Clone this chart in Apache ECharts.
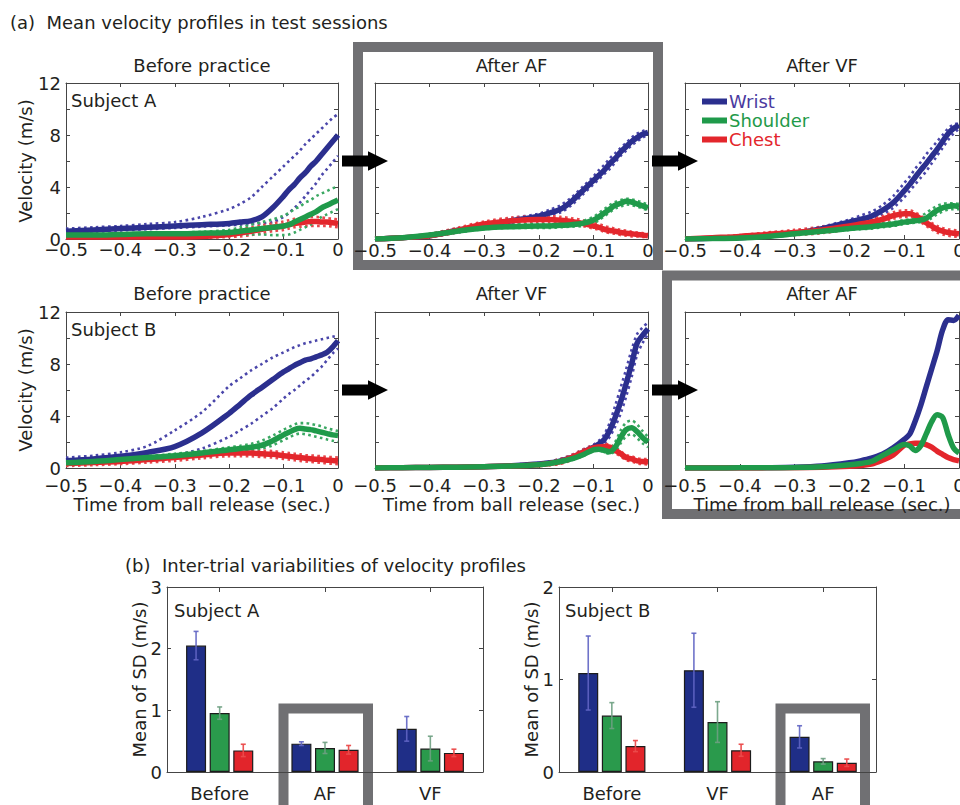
<!DOCTYPE html>
<html><head><meta charset="utf-8">
<script src="https://cdn.jsdelivr.net/npm/echarts@6/dist/echarts.min.js"></script>
<style>html,body{margin:0;padding:0;background:#fff}#c{width:960px;height:805px}</style>
</head><body><div id="c"></div>
<script>
// ---------- DATA ----------
const T = [-0.5,-0.45,-0.4,-0.35,-0.3,-0.25,-0.2,-0.18,-0.16,-0.14,-0.12,-0.1,-0.09,-0.08,-0.07,-0.06,-0.05,-0.04,-0.03,-0.02,-0.01,0];
const xTicks = [-0.5,-0.4,-0.3,-0.2,-0.1,0];
const yTickLabels = [0,4,8,12];

// Subject A, before practice
const aB_w   = [0.6,0.7,0.8,0.9,1.0,1.1,1.2,1.3,1.4,1.7,2.4,3.3,3.8,4.2,4.7,5.1,5.6,6.0,6.5,7.0,7.5,8.0];
const aB_wHi = [0.8,0.9,1.0,1.15,1.3,1.7,2.3,2.7,3.2,4.0,4.8,5.6,6.0,6.4,6.8,7.3,7.7,8.1,8.5,8.9,9.3,9.6];
const aB_wLo = [0.5,0.55,0.65,0.75,0.85,0.95,1.05,1.1,1.15,1.2,1.3,1.7,2.0,2.4,2.8,3.3,3.8,4.3,4.9,5.4,5.9,6.4];
const aB_s   = [0.3,0.3,0.35,0.4,0.4,0.45,0.5,0.6,0.7,0.8,0.9,1.0,1.1,1.3,1.5,1.7,1.9,2.1,2.4,2.6,2.8,3.0];
const aB_sHi = [0.35,0.35,0.4,0.45,0.5,0.55,0.7,0.9,1.1,1.3,1.5,1.8,2.0,2.3,2.5,2.8,3.0,3.3,3.5,3.7,3.9,4.0];
const aB_sLo = [0.25,0.25,0.3,0.3,0.3,0.3,0.35,0.35,0.35,0.35,0.3,0.3,0.35,0.5,0.7,0.9,1.1,1.4,1.7,1.9,2.1,2.3];
const aB_c   = [0.15,0.15,0.15,0.15,0.15,0.2,0.35,0.45,0.6,0.75,0.9,1.0,1.1,1.2,1.25,1.3,1.35,1.35,1.3,1.3,1.25,1.2];
const aB_cHi = [0.2,0.2,0.2,0.2,0.25,0.35,0.6,0.75,0.9,1.05,1.2,1.35,1.45,1.55,1.6,1.65,1.7,1.7,1.65,1.6,1.55,1.5];
const aB_cLo = [0.1,0.1,0.1,0.1,0.1,0.1,0.15,0.2,0.3,0.45,0.6,0.7,0.8,0.9,0.95,1.0,1.0,1.0,1.0,1.0,0.95,0.9];

// Subject A, after AF
const aA_w   = [0.0,0.1,0.25,0.65,1.0,1.4,1.75,2.0,2.3,2.9,3.7,4.5,4.9,5.3,5.8,6.2,6.7,7.1,7.5,7.8,8.05,8.2];
const aA_wHi = [0.05,0.15,0.35,0.8,1.2,1.6,1.95,2.25,2.6,3.2,4.0,4.8,5.3,5.7,6.2,6.6,7.0,7.4,7.8,8.1,8.3,8.4];
const aA_wLo = [0.0,0.05,0.2,0.5,0.85,1.2,1.55,1.8,2.05,2.6,3.4,4.2,4.6,5.0,5.4,5.9,6.4,6.8,7.2,7.5,7.8,8.0];
const aA_s   = [0.0,0.1,0.3,0.6,0.85,0.95,1.0,1.0,1.05,1.1,1.2,1.45,1.7,2.0,2.3,2.6,2.75,2.9,2.85,2.7,2.55,2.4];
const aA_sHi = [0.0,0.15,0.4,0.7,0.95,1.1,1.15,1.15,1.2,1.25,1.4,1.7,2.0,2.3,2.6,2.85,3.0,3.1,3.05,2.95,2.8,2.65];
const aA_sLo = [0.0,0.05,0.2,0.5,0.75,0.85,0.85,0.85,0.9,0.95,1.0,1.2,1.45,1.75,2.05,2.35,2.5,2.65,2.6,2.5,2.35,2.2];
const aA_c   = [0.0,0.1,0.25,0.65,1.15,1.4,1.5,1.5,1.45,1.35,1.2,1.0,0.9,0.75,0.65,0.6,0.5,0.45,0.4,0.35,0.3,0.25];
const aA_cHi = [0.05,0.15,0.4,0.85,1.35,1.65,1.75,1.75,1.7,1.6,1.45,1.25,1.15,1.0,0.9,0.8,0.7,0.65,0.55,0.5,0.45,0.4];
const aA_cLo = [0.0,0.05,0.15,0.5,0.95,1.2,1.3,1.3,1.25,1.15,1.0,0.8,0.7,0.55,0.45,0.4,0.3,0.25,0.2,0.2,0.15,0.1];

// Subject A, after VF
const aV_w   = [0.0,0.05,0.1,0.25,0.45,0.8,1.3,1.5,1.75,2.2,2.8,3.7,4.2,4.75,5.3,5.8,6.35,6.9,7.5,8.1,8.5,8.75];
const aV_wHi = [0.0,0.05,0.15,0.3,0.55,0.95,1.5,1.8,2.1,2.6,3.3,4.3,4.8,5.4,5.9,6.5,7.0,7.5,8.0,8.5,8.8,8.9];
const aV_wLo = [0.0,0.05,0.1,0.2,0.4,0.7,1.1,1.3,1.5,1.9,2.4,3.2,3.7,4.2,4.7,5.2,5.8,6.4,7.0,7.6,8.1,8.5];
const aV_s   = [0.0,0.03,0.08,0.2,0.4,0.6,0.8,0.88,0.95,1.05,1.15,1.3,1.35,1.4,1.45,1.6,1.9,2.2,2.4,2.5,2.55,2.5];
const aV_sHi = [0.0,0.05,0.12,0.28,0.5,0.7,0.95,1.0,1.1,1.2,1.3,1.45,1.5,1.6,1.75,2.0,2.3,2.55,2.7,2.75,2.75,2.7];
const aV_sLo = [0.0,0.02,0.05,0.15,0.3,0.5,0.7,0.75,0.8,0.9,1.0,1.15,1.2,1.25,1.3,1.35,1.6,1.9,2.1,2.25,2.3,2.3];
const aV_c   = [0.0,0.1,0.2,0.35,0.5,0.7,1.0,1.15,1.3,1.5,1.8,1.95,1.95,1.8,1.55,1.25,1.0,0.75,0.6,0.5,0.45,0.4];
const aV_cHi = [0.05,0.15,0.3,0.5,0.7,0.95,1.25,1.4,1.55,1.75,2.05,2.2,2.2,2.05,1.8,1.5,1.25,1.0,0.85,0.75,0.7,0.65];
const aV_cLo = [0.0,0.05,0.1,0.2,0.3,0.45,0.75,0.9,1.05,1.25,1.55,1.7,1.7,1.55,1.3,1.0,0.75,0.5,0.35,0.25,0.2,0.15];

// Subject B, before practice
const bB_w   = [0.55,0.7,0.9,1.2,1.65,2.7,4.2,4.9,5.6,6.2,6.8,7.4,7.65,7.9,8.1,8.3,8.4,8.55,8.7,8.9,9.3,9.8];
const bB_wHi = [0.8,0.95,1.2,1.7,2.9,4.3,6.3,6.9,7.5,8.0,8.5,8.9,9.1,9.3,9.45,9.6,9.7,9.8,9.9,10.0,10.1,10.2];
const bB_wLo = [0.3,0.4,0.55,0.75,1.0,1.5,2.4,2.9,3.4,4.0,4.6,5.35,5.7,6.0,6.35,6.7,7.0,7.4,7.8,8.3,8.8,9.2];
const bB_s   = [0.4,0.5,0.65,0.8,0.95,1.15,1.4,1.5,1.6,1.75,2.1,2.55,2.75,2.95,3.05,3.0,2.95,2.85,2.75,2.65,2.55,2.5];
const bB_sHi = [0.5,0.6,0.75,0.9,1.1,1.3,1.6,1.7,1.85,2.1,2.5,2.95,3.15,3.35,3.45,3.45,3.4,3.3,3.2,3.05,2.95,2.85];
const bB_sLo = [0.3,0.4,0.55,0.7,0.85,1.0,1.25,1.3,1.4,1.5,1.75,2.15,2.35,2.55,2.65,2.6,2.5,2.4,2.3,2.2,2.1,2.0];
const bB_c   = [0.35,0.42,0.5,0.65,0.8,1.0,1.15,1.15,1.15,1.1,1.05,0.95,0.9,0.85,0.8,0.75,0.72,0.68,0.65,0.6,0.58,0.55];
const bB_cHi = [0.55,0.62,0.72,0.88,1.05,1.25,1.4,1.4,1.4,1.35,1.3,1.2,1.15,1.1,1.05,1.0,0.97,0.93,0.9,0.85,0.83,0.8];
const bB_cLo = [0.15,0.22,0.3,0.42,0.55,0.75,0.9,0.9,0.9,0.85,0.8,0.7,0.65,0.6,0.55,0.5,0.47,0.43,0.4,0.35,0.33,0.3];

// Subject B, after VF
const bV_w   = [0.0,0.02,0.04,0.06,0.1,0.18,0.3,0.4,0.55,0.8,1.2,1.6,1.85,2.2,2.9,3.9,5.1,6.5,8.0,9.6,10.2,10.7];
const bV_wHi = [0.0,0.03,0.06,0.09,0.15,0.25,0.4,0.5,0.7,1.0,1.4,1.8,2.1,2.6,3.5,4.8,6.2,7.6,9.1,10.3,10.8,11.2];
const bV_wLo = [0.0,0.01,0.02,0.04,0.06,0.12,0.2,0.3,0.45,0.65,1.0,1.4,1.65,1.9,2.4,3.2,4.2,5.5,7.0,8.7,9.6,10.3];
const bV_s   = [0.0,0.02,0.04,0.06,0.1,0.15,0.25,0.35,0.5,0.7,1.0,1.4,1.45,1.35,1.25,1.6,2.35,2.95,3.1,2.8,2.35,2.0];
const bV_sHi = [0.0,0.03,0.06,0.09,0.14,0.2,0.33,0.45,0.6,0.8,1.1,1.5,1.55,1.5,1.5,2.0,2.9,3.5,3.65,3.35,2.85,2.4];
const bV_sLo = [0.0,0.01,0.02,0.04,0.07,0.1,0.18,0.25,0.4,0.6,0.9,1.3,1.35,1.2,1.1,1.3,1.9,2.45,2.6,2.3,1.9,1.6];
const bV_c   = [0.0,0.02,0.04,0.06,0.1,0.15,0.25,0.35,0.5,0.8,1.2,1.55,1.62,1.65,1.6,1.35,1.1,0.8,0.7,0.55,0.5,0.48];
const bV_cHi = [0.0,0.04,0.07,0.1,0.15,0.22,0.35,0.5,0.7,1.0,1.4,1.75,1.82,1.85,1.8,1.55,1.3,1.0,0.9,0.75,0.7,0.68];
const bV_cLo = [0.0,0.01,0.02,0.03,0.05,0.1,0.15,0.22,0.32,0.6,1.0,1.35,1.42,1.45,1.4,1.15,0.9,0.6,0.5,0.35,0.3,0.28];

// Subject B, after AF
const bA_w = [0.0,0.0,0.01,0.02,0.05,0.15,0.4,0.55,0.75,1.05,1.55,2.2,2.6,3.6,4.8,6.2,7.6,9.0,10.6,11.4,11.35,11.75];
const bA_s = [0.0,0.0,0.01,0.02,0.04,0.1,0.25,0.35,0.5,0.95,1.4,1.8,1.7,1.35,1.7,2.6,3.55,4.1,3.9,2.6,1.55,1.15];
const bA_c = [0.0,0.0,0.0,0.01,0.02,0.05,0.13,0.2,0.3,0.6,1.0,1.75,1.85,1.9,1.9,1.8,1.6,1.3,1.05,0.8,0.65,0.55];

// (b) bar panels
const barCatsA = ['Before','AF','VF'];
const barCatsB = ['Before','VF','AF'];
const A_wrist = [2.05,0.46,0.70],  A_wristErr = [0.23,0.03,0.20];
const A_shoulder = [0.955,0.39,0.38], A_shoulderErr = [0.10,0.09,0.20];
const A_chest = [0.35,0.36,0.31], A_chestErr = [0.10,0.07,0.06];
const B_wrist = [1.07,1.10,0.38], B_wristErr = [0.40,0.40,0.12];
const B_shoulder = [0.61,0.54,0.115], B_shoulderErr = [0.14,0.22,0.03];
const B_chest = [0.28,0.235,0.10], B_chestErr = [0.06,0.065,0.04];

// ---------- STYLE / LAYOUT ----------
const FONT = "'DejaVu Sans', 'Liberation Sans', Arial, sans-serif";
const TXT = '#231f20', FRAME = '#454545', GRAY = '#707073';
const NAMES = {w:'Wrist', s:'Shoulder', c:'Chest'};
const COL = {w:'#2b2f8e', s:'#1f9a4a', c:'#e3262c'};
const DOTC = {w:'#4a46aa', s:'#3aa862', c:'#e8474b'};
const BARC = {w:'#1f2e87', s:'#2a9a4c', c:'#e2252b'};
const ERRC = {w:'rgba(95,100,195,0.9)', s:'rgba(110,160,130,0.9)', c:'rgba(235,75,75,0.95)'};

const panels = [
  {title:'Before practice', subj:'Subject A', rect:[66,83,272,156], yLab:true, xName:false, lm:3,
   d:{w:[aB_w,aB_wHi,aB_wLo], s:[aB_s,aB_sHi,aB_sLo], c:[aB_c,aB_cHi,aB_cLo]}},
  {title:'After AF', rect:[375,83,273,156], yLab:false, xName:false, lm:4,
   d:{w:[aA_w,aA_wHi,aA_wLo], s:[aA_s,aA_sHi,aA_sLo], c:[aA_c,aA_cHi,aA_cLo]}},
  {title:'After VF', rect:[685,83,274,156], yLab:false, xName:false, lm:4,
   d:{w:[aV_w,aV_wHi,aV_wLo], s:[aV_s,aV_sHi,aV_sLo], c:[aV_c,aV_cHi,aV_cLo]}},
  {title:'Before practice', subj:'Subject B', rect:[66,312,272,156], yLab:true, xName:true, lm:10,
   d:{w:[bB_w,bB_wHi,bB_wLo], s:[bB_s,bB_sHi,bB_sLo], c:[bB_c,bB_cHi,bB_cLo]}},
  {title:'After VF', rect:[375,312,273,156], yLab:false, xName:true, lm:10,
   d:{w:[bV_w,bV_wHi,bV_wLo], s:[bV_s,bV_sHi,bV_sLo], c:[bV_c,bV_cHi,bV_cLo]}},
  {title:'After AF', rect:[685,312,274,156], yLab:false, xName:true, lm:10,
   d:{w:[bA_w], s:[bA_s], c:[bA_c]}}
];

const grid = [], xAxis = [], yAxis = [], series = [], elements = [];
const fmtX = v => { const r = Math.round(v*10)/10; return r === 0 ? '0' : '\u2212' + Math.abs(r); };
const frameLine = {show:true, onZero:false, lineStyle:{color:FRAME, width:1}};
const tick = {show:true, inside:true, length:4, lineStyle:{color:FRAME, width:1}};
const txtStyle = {fontSize:18, color:TXT, fontFamily:FONT, lineHeight:14};

function text(x, y, s, size, align, color) {
  return {type:'text', x:x, y:y, z:20, silent:true,
    style:{text:s, fill:color||TXT, fontSize:size||18, fontFamily:FONT, align:align||'left', verticalAlign:'middle'}};
}

panels.forEach((p, gi) => {
  const [l,t,w,h] = p.rect;
  grid.push({left:l, top:t, width:w, height:h, containLabel:false, outerBoundsMode:'none'});
  xAxis.push({gridIndex:gi, type:'value', min:-0.5, max:0, interval:0.1, position:'bottom',
    axisLine:frameLine, axisTick:tick, splitLine:{show:false},
    axisLabel:Object.assign({show:true, formatter:fmtX, margin:p.lm, showMinLabel:true, showMaxLabel:true}, txtStyle),
    name: p.xName ? 'Time from ball release (sec.)' : '', nameLocation:'middle', nameGap:29, nameMoveOverlap:false,
    nameTextStyle:txtStyle});
  xAxis.push({gridIndex:gi, type:'value', min:-0.5, max:0, interval:0.1, position:'top',
    axisLine:frameLine, axisTick:tick, splitLine:{show:false}, axisLabel:{show:false}});
  yAxis.push({gridIndex:gi, type:'value', min:0, max:12, interval:2, position:'left',
    axisLine:frameLine, axisTick:tick, splitLine:{show:false},
    axisLabel:Object.assign({show:p.yLab, margin:5, formatter:v => (yTickLabels.indexOf(v) >= 0 ? String(v) : '')}, txtStyle),
    name: p.yLab ? 'Velocity (m/s)' : '', nameLocation:'middle', nameGap:34, nameMoveOverlap:false,
    nameTextStyle:txtStyle});
  yAxis.push({gridIndex:gi, type:'value', min:0, max:12, interval:2, position:'right',
    axisLine:frameLine, axisTick:tick, splitLine:{show:false}, axisLabel:{show:false}});

  const mk = arr => T.map((tt, i) => [tt, arr[i]]);
  ['w','c','s'].forEach(k => {
    [1,2].forEach(j => {
      if (!p.d[k][j]) return;
      series.push({type:'line', name:NAMES[k] + ' SD', xAxisIndex:2*gi, yAxisIndex:2*gi,
        data:mk(p.d[k][j]), smooth:0.3, showSymbol:false, silent:true, z:2,
        itemStyle:{color:DOTC[k]}, lineStyle:{color:DOTC[k], width:2.6, type:[2.6,3.4], cap:'butt'}});
    });
  });
  ['w','c','s'].forEach(k => {
    series.push({type:'line', name:NAMES[k], xAxisIndex:2*gi, yAxisIndex:2*gi,
      data:mk(p.d[k][0]), smooth:0.3, showSymbol:false, silent:true, z:3,
      itemStyle:{color:COL[k]}, lineStyle:{color:COL[k], width:5.5}});
  });

  elements.push(text(l + w/2, t < 200 ? 65.5 : 293, p.title, 18, 'center'));
  if (p.subj) elements.push(text(71, t + 17.5, p.subj, 18, 'left'));
});

// bar panels
const barPanels = [
  {rect:[167,587,316,185], cats:barCatsA, max:3, subj:'Subject A',
   vals:{w:A_wrist, s:A_shoulder, c:A_chest}, errs:{w:A_wristErr, s:A_shoulderErr, c:A_chestErr}},
  {rect:[559,587,317,185], cats:barCatsB, max:2, subj:'Subject B',
   vals:{w:B_wrist, s:B_shoulder, c:B_chest}, errs:{w:B_wristErr, s:B_shoulderErr, c:B_chestErr}}
];
const BAR_W = 20, BAR_GAP = 3.6;
barPanels.forEach((b, bi) => {
  const gi = panels.length + bi;
  const [l,t,w,h] = b.rect;
  grid.push({left:l, top:t, width:w, height:h, containLabel:false, outerBoundsMode:'none'});
  const catTick = {show:true, inside:true, length:5, alignWithLabel:true, lineStyle:{color:FRAME}};
  xAxis.push({gridIndex:gi, type:'category', data:b.cats, position:'bottom',
    axisLine:frameLine, axisTick:catTick, splitLine:{show:false},
    axisLabel:Object.assign({show:true, margin:14}, txtStyle)});
  xAxis.push({gridIndex:gi, type:'category', data:b.cats, position:'top',
    axisLine:frameLine, axisTick:catTick, splitLine:{show:false}, axisLabel:{show:false}});
  yAxis.push({gridIndex:gi, type:'value', min:0, max:b.max, interval:1, position:'left',
    axisLine:frameLine, axisTick:tick, splitLine:{show:false},
    axisLabel:Object.assign({show:true, margin:5}, txtStyle),
    name:'Mean of SD (m/s)', nameLocation:'middle', nameGap:21, nameMoveOverlap:false, nameTextStyle:txtStyle});
  yAxis.push({gridIndex:gi, type:'value', min:0, max:b.max, interval:1, position:'right',
    axisLine:frameLine, axisTick:tick, splitLine:{show:false}, axisLabel:{show:false}});
  ['w','s','c'].forEach((k, ki) => {
    series.push({type:'bar', name:NAMES[k] + ' bar', xAxisIndex:2*gi, yAxisIndex:2*gi,
      data:b.vals[k], barWidth:BAR_W, barGap:(BAR_GAP/BAR_W*100) + '%', silent:true, z:2,
      itemStyle:{color:BARC[k], borderColor:'#1c1c1c', borderWidth:1.2}});
  });
  ['w','s','c'].forEach((k, ki) => {
    series.push({type:'custom', name:NAMES[k] + ' err', xAxisIndex:2*gi, yAxisIndex:2*gi, z:4, silent:true,
      data:b.vals[k].map((v, i) => [i, v, b.errs[k][i]]),
      renderItem:(params, api) => {
        const i = api.value(0), v = api.value(1), e = api.value(2);
        const off = (ki - 1) * (BAR_W + BAR_GAP);
        const top = api.coord([i, v + e]), bot = api.coord([i, v - e]);
        const x = top[0] + off;
        const st = {stroke:ERRC[k], lineWidth:1.6};
        return {type:'group', children:[
          {type:'line', shape:{x1:x, y1:top[1], x2:x, y2:bot[1]}, style:st},
          {type:'line', shape:{x1:x-2.5, y1:top[1], x2:x+2.5, y2:top[1]}, style:st},
          {type:'line', shape:{x1:x-2.5, y1:bot[1], x2:x+2.5, y2:bot[1]}, style:st}
        ]};
      }});
  });
  elements.push(text(bi === 0 ? 174 : 565, 610.5, b.subj, 18, 'left'));
});

// headings
elements.push(text(10, 22, '(a)  Mean velocity profiles in test sessions', 18, 'left'));
elements.push(text(125, 565, '(b)  Inter-trial variabilities of velocity profiles', 18, 'left'));

// highlight boxes
const boxStyle = {fill:'none', stroke:GRAY, lineWidth:10};
[[358,47,300,218],[667,275.5,320,238.5],[283.5,708.5,84.5,200],[780.5,708.5,84.5,200]].forEach(r => {
  elements.push({type:'rect', z:-1, silent:true, shape:{x:r[0], y:r[1], width:r[2], height:r[3]}, style:boxStyle});
});
// arrows
[[342,161],[652,161],[342,390],[652,390]].forEach(a => {
  const [x0, c] = a, xh = x0 + 26, xt = x0 + 46;
  elements.push({type:'polygon', z:15, silent:true,
    shape:{points:[[x0,c-5.5],[xh,c-5.5],[xh,c-9.8],[xt,c],[xh,c+9.8],[xh,c+5.5],[x0,c+5.5]]},
    style:{fill:'#000'}});
});

const option = {
  animation:false,
  backgroundColor:'#ffffff',
  textStyle:{fontFamily:FONT},
  grid:grid, xAxis:xAxis, yAxis:yAxis, series:series,
  legend:{show:true, orient:'vertical', left:702, top:92, padding:0, itemGap:0,
    itemWidth:25, itemHeight:6, icon:'rect', selectedMode:false,
    textStyle:{fontSize:18, fontFamily:FONT, lineHeight:19, padding:[0,0,0,-3]},
    data:[{name:'Wrist', textStyle:{color:'#4a3aa0'}},
          {name:'Shoulder', textStyle:{color:'#1f9a4a'}},
          {name:'Chest', textStyle:{color:'#e3262c'}}]},
  graphic:{elements:elements}
};
const chart = echarts.init(document.getElementById('c'), null, {renderer:'svg', width:960, height:805});
chart.setOption(option);
</script>
</body></html>
